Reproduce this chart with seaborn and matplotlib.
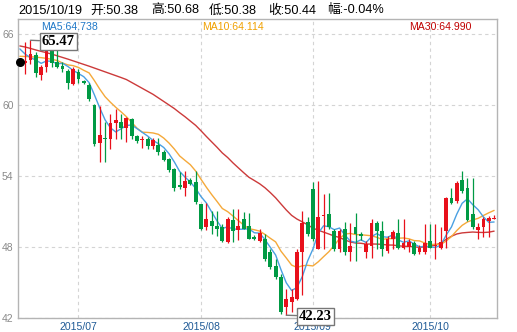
import numpy as np
import pandas as pd
import matplotlib
matplotlib.use("Agg")
import matplotlib.pyplot as plt
import seaborn as sns

# ---------------- data ----------------
dates = pd.bdate_range("2015-06-16", "2015-10-19")

opens = [63.60, 63.55, 63.80, 64.25, 62.50, 63.25, 64.65, 63.65, 63.30, 62.85,
         61.80, 62.80, 62.00, 61.70, 60.00, 56.80, 57.25, 57.10, 58.50, 58.60,
         58.05, 58.80, 57.35, 57.00, 57.10, 56.50, 56.65, 56.00, 55.40, 54.55,
         53.20, 53.00, 53.65, 53.50, 51.60, 49.65, 50.20, 49.80, 49.70, 48.40,
         50.25, 49.40, 50.40, 49.75, 48.85, 48.50, 48.65, 47.55, 46.40, 45.45,
         42.90, 43.35, 43.60, 47.55, 50.10, 52.90, 47.85, 50.60, 50.75, 49.35,
         47.80, 49.50, 47.55, 49.65, 49.10, 47.60, 48.10, 50.05, 49.35, 47.70,
         48.65, 49.15, 47.95, 48.00, 48.35, 47.55, 47.60, 48.50, 48.05, 47.95,
         49.35, 52.15, 51.90, 53.70, 53.00, 50.80, 49.40, 49.65, 50.20, 50.38]
highs = [63.80, 65.35, 65.47, 64.45, 63.40, 65.35, 65.25, 64.80, 63.65, 63.00,
         63.20, 63.00, 62.10, 61.85, 60.10, 59.90, 58.60, 59.20, 59.65, 59.20,
         59.00, 58.90, 57.50, 57.35, 57.30, 57.20, 57.20, 56.20, 55.50, 54.70,
         54.30, 54.40, 53.80, 54.40, 51.65, 51.75, 51.05, 51.05, 49.90, 50.50,
         51.20, 51.20, 50.95, 50.85, 49.00, 49.50, 49.10, 47.80, 46.95, 45.70,
         44.45, 44.45, 47.80, 51.05, 50.50, 53.45, 53.55, 52.45, 52.60, 49.50,
         49.50, 50.10, 50.05, 50.90, 49.30, 48.50, 50.35, 50.20, 50.20, 48.90,
         49.40, 50.35, 50.35, 48.70, 48.50, 48.20, 49.90, 49.90, 49.90, 49.70,
         52.20, 53.00, 53.55, 54.40, 53.85, 53.85, 50.00, 50.50, 50.60, 50.68]
lows = [63.40, 62.60, 63.50, 62.40, 62.10, 62.80, 63.20, 63.10, 62.80, 61.35,
        61.65, 61.90, 61.75, 60.30, 56.50, 55.20, 55.20, 56.25, 57.10, 57.10,
        56.85, 57.10, 56.80, 56.35, 56.30, 56.25, 55.80, 55.25, 54.30, 52.70,
        52.90, 52.30, 53.20, 51.60, 49.45, 49.45, 49.10, 48.95, 48.40, 48.30,
        48.40, 48.60, 49.50, 48.65, 48.60, 48.40, 46.85, 46.10, 45.30, 42.35,
        42.23, 42.50, 43.50, 43.90, 48.90, 48.50, 47.80, 47.80, 49.50, 47.70,
        47.60, 47.30, 46.85, 46.85, 48.60, 47.10, 47.10, 47.80, 47.20, 47.50,
        47.80, 47.80, 47.80, 47.60, 47.30, 47.40, 47.40, 47.90, 46.95, 47.80,
        47.95, 51.60, 51.70, 52.60, 50.20, 49.50, 48.70, 48.80, 48.80, 50.38]
closes = [63.65, 63.70, 64.30, 62.70, 63.25, 64.65, 63.55, 63.20, 63.00, 61.90,
          63.00, 62.20, 61.85, 60.50, 56.70, 57.50, 57.15, 58.50, 58.75, 58.05,
          58.90, 57.35, 56.95, 57.15, 56.50, 57.05, 56.00, 55.35, 54.50, 53.00,
          53.05, 53.60, 53.30, 51.80, 49.55, 50.35, 49.80, 49.55, 48.50, 50.35,
          49.35, 49.75, 49.55, 48.70, 48.65, 49.20, 47.00, 46.30, 45.45, 42.50,
          43.60, 43.75, 47.55, 50.05, 49.10, 48.65, 50.50, 50.65, 49.65, 47.85,
          49.35, 47.55, 48.10, 49.10, 48.90, 48.25, 50.05, 49.35, 47.80, 48.65,
          49.25, 47.95, 48.30, 48.40, 47.40, 47.95, 48.30, 47.95, 48.20, 48.40,
          52.15, 51.75, 53.40, 52.75, 50.30, 49.65, 49.65, 50.35, 50.46, 50.44]

# moving-average values before each window is full
ma5_head = [64.738, 64.30, 64.00, 63.80]
ma10_head = [64.114, 64.10, 64.08, 64.04, 64.00, 63.94, 63.86, 63.76, 63.55]
ma30_head = [64.990, 64.90, 64.78, 64.65, 64.53, 64.42, 64.30, 64.16, 64.02,
             63.88, 63.73, 63.58, 63.43, 63.28, 63.12, 62.96, 62.80, 62.64,
             62.48, 62.32, 62.15, 61.90, 61.65, 61.40, 61.15, 60.90, 60.60,
             60.30, 60.00]

header_date = "2015/10/19"
header_items = ["开:50.38", "高:50.68", "低:50.38", "收:50.44", "幅:-0.04%"]
y_ticks = [42, 48, 54, 60, 66]

# ---------------- styling ----------------
RED = "#e8101b"
GREEN = "#009a44"
C_MA5, C_MA10, C_MA30 = "#4aa0e2", "#f5a93a", "#cc3a3a"
T_MA5, T_MA10, T_MA30 = "#1e78c8", "#f0a000", "#c00000"

sns.set_style("white")
plt.rcParams['font.family'] = ['Liberation Sans', 'Noto Sans CJK SC', 'DejaVu Sans']

W, H = 517, 332
fig = plt.figure(figsize=(W / 100, H / 100), dpi=100)
L, R, T, B = 17.7, 497.3, 18.5, 318.3
ax = fig.add_axes([L / W, 1 - B / H, (R - L) / W, (B - T) / H])

n = len(dates)
x = np.arange(n)
o = np.array(opens); h = np.array(highs); lo = np.array(lows); c = np.array(closes)
up = c >= o
colors = np.where(up, RED, GREEN)

# moving averages
cs = pd.Series(closes)
ma5 = cs.rolling(5).mean().to_numpy(); ma5[:4] = ma5_head
ma10 = cs.rolling(10).mean().to_numpy(); ma10[:9] = ma10_head
ma30 = cs.rolling(30).mean().to_numpy(); ma30[:29] = ma30_head

# grid
ax.set_xlim(-0.4, 89.6)
ax.set_ylim(41.97, 67.31)
month_pos = [i for i in range(1, n) if dates[i].month != dates[i - 1].month]
month_lab = [f"{dates[i].year}/{dates[i].month:02d}" for i in month_pos]
ax.set_xticks(month_pos)
ax.set_xticklabels(month_lab)
ax.set_yticks(y_ticks)
ax.set_yticklabels([str(v) for v in y_ticks])
ax.grid(True, ls=(0, (3, 3)), color="#d4d4d4", lw=0.8)
ax.set_axisbelow(True)
ax.tick_params(axis="both", length=0)
ax.tick_params(axis="y", labelsize=7.5, labelcolor="#8a8a8a", pad=3)
ax.tick_params(axis="x", labelsize=7.6, labelcolor="#1f5a96", pad=2.5)
for s in ax.spines.values():
    s.set_color("#b4b4b4")
    s.set_linewidth(1.0)

# MA lines (below candles)
sns.lineplot(x=x, y=ma30, ax=ax, color=C_MA30, linewidth=1.0, zorder=2)
sns.lineplot(x=x, y=ma10, ax=ax, color=C_MA10, linewidth=1.0, zorder=2)
sns.lineplot(x=x, y=ma5, ax=ax, color=C_MA5, linewidth=1.0, zorder=2)

# candles
ax.vlines(x, lo, h, colors=colors, linewidth=0.9, zorder=3)
ax.bar(x, np.maximum(np.abs(c - o), 0.07), bottom=np.minimum(o, c), width=0.72,
       color=colors, linewidth=0, zorder=3)

# marker dot at the first candle
ax.scatter([x[0]], [c[0]], s=30, color="black", zorder=5, clip_on=False)

ax.set_xlabel(""); ax.set_ylabel("")

# max / min annotations
imax = int(np.argmax(h)); imin = int(np.argmin(lo))
box = dict(boxstyle="square,pad=0.14", fc="white", ec="#777777", lw=1.0)
arrow = dict(arrowstyle="-", color="#777777", lw=1.0, shrinkA=0, shrinkB=0)
for idx, val, dx, dy in [(imax, h[imax], 28, -1.2), (imin, lo[imin], 29.3, -1.0)]:
    ax.annotate(f"{val:.2f}", xy=(idx, val), xytext=(dx, dy), textcoords="offset pixels",
                ha="center", va="center", fontsize=10.5, fontweight="bold",
                family="Liberation Serif", color="black", bbox=box, arrowprops=arrow,
                zorder=10, annotation_clip=False)

# header
def px(xp, yp):
    return xp / W, 1 - yp / H

fig.text(*px(18, 10.5), header_date, fontsize=9.2, va="center", ha="left", color="black")
for xp, item in zip([90.5, 151, 209, 268, 327], header_items):
    fig.text(*px(xp, 10.5), item, fontsize=9.2, va="center", ha="left", color="black")

# MA legend texts
fig.text(*px(41, 27.5), f"MA5:{ma5[0]:.3f}", fontsize=7.6, color=T_MA5, va="center", ha="left")
fig.text(*px(202, 27.5), f"MA10:{ma10[0]:.3f}", fontsize=7.6, color=T_MA10, va="center", ha="left")
fig.text(*px(409, 27.5), f"MA30:{ma30[0]:.3f}", fontsize=7.6, color=T_MA30, va="center", ha="left")

fig.savefig("out.png", dpi=100, facecolor="white")
